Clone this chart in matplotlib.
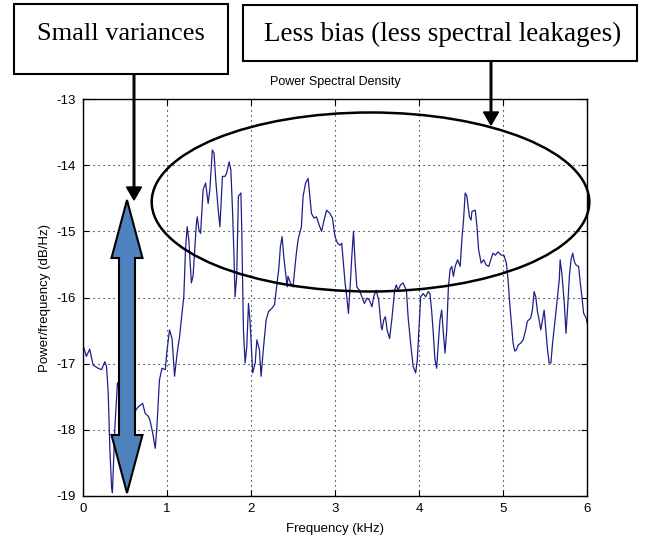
import matplotlib
matplotlib.use('Agg')
import matplotlib.pyplot as plt
from matplotlib.patches import Rectangle, Ellipse, FancyArrow, Polygon

# PSD (kHz, dB/Hz)
freq_khz = [0.00, 0.04, 0.08, 0.12, 0.18, 0.22, 0.26, 0.28, 0.30, 0.32, 0.34, 0.35, 0.38, 0.41,
            0.45, 0.50, 0.55, 0.60, 0.63, 0.66, 0.71, 0.74, 0.78, 0.80, 0.83, 0.86, 0.88, 0.91,
            0.94, 0.98, 1.00, 1.03, 1.06, 1.09, 1.12, 1.15, 1.17, 1.20, 1.22, 1.24, 1.26, 1.29,
            1.31, 1.35, 1.36, 1.38, 1.40, 1.43, 1.46, 1.49, 1.51, 1.54, 1.56, 1.58, 1.61, 1.63,
            1.66, 1.69, 1.71, 1.74, 1.76, 1.78, 1.80, 1.81, 1.83, 1.85, 1.88, 1.89, 1.91, 1.93,
            1.95, 1.97, 1.99, 2.02, 2.05, 2.07, 2.10, 2.12, 2.15, 2.18, 2.21, 2.25, 2.28, 2.31,
            2.33, 2.35, 2.37, 2.39, 2.43, 2.44, 2.47, 2.50, 2.52, 2.54, 2.56, 2.60, 2.62, 2.65,
            2.68, 2.70, 2.72, 2.75, 2.78, 2.81, 2.84, 2.87, 2.90, 2.94, 2.97, 3.00, 3.03, 3.06,
            3.08, 3.10, 3.12, 3.14, 3.16, 3.18, 3.20, 3.22, 3.24, 3.26, 3.29, 3.32, 3.35, 3.38,
            3.41, 3.44, 3.46, 3.49, 3.52, 3.55, 3.56, 3.58, 3.60, 3.62, 3.65, 3.68, 3.71, 3.73,
            3.75, 3.78, 3.81, 3.85, 3.87, 3.90, 3.93, 3.96, 3.98, 4.00, 4.02, 4.05, 4.08, 4.11,
            4.13, 4.15, 4.17, 4.19, 4.21, 4.23, 4.25, 4.27, 4.29, 4.31, 4.33, 4.35, 4.37, 4.39,
            4.41, 4.43, 4.46, 4.49, 4.51, 4.53, 4.55, 4.57, 4.60, 4.62, 4.63, 4.67, 4.69, 4.71,
            4.74, 4.77, 4.80, 4.83, 4.86, 4.88, 4.91, 4.94, 4.98, 5.01, 5.04, 5.06, 5.08, 5.10,
            5.12, 5.14, 5.16, 5.18, 5.21, 5.24, 5.27, 5.29, 5.33, 5.35, 5.37, 5.39, 5.41, 5.43,
            5.45, 5.47, 5.49, 5.51, 5.53, 5.55, 5.57, 5.59, 5.62, 5.64, 5.67, 5.68, 5.70, 5.73,
            5.75, 5.77, 5.79, 5.81, 5.83, 5.85, 5.87, 5.90, 5.92, 5.94, 5.96, 5.99, 6.00]
psd_db = [-16.72, -16.89, -16.78, -17.02, -17.07, -17.09, -16.97, -17.04, -17.44, -18.30, -18.86, -18.95, -17.95, -17.29,
          -17.40, -17.90, -18.10, -17.80, -17.70, -17.65, -17.60, -17.75, -17.80, -17.87, -18.05, -18.28, -17.95, -17.25,
          -17.07, -17.09, -16.80, -16.49, -16.62, -17.19, -16.85, -16.59, -16.34, -15.99, -15.28, -14.93, -15.13, -15.78,
          -15.68, -14.88, -14.78, -14.98, -15.03, -14.37, -14.27, -14.58, -14.37, -13.77, -13.82, -14.22, -14.68, -14.93,
          -14.17, -14.17, -14.12, -13.95, -14.07, -14.68, -15.48, -15.99, -15.68, -14.47, -14.42, -14.98, -16.49, -16.99,
          -16.74, -16.09, -16.39, -17.14, -16.99, -16.64, -16.79, -17.19, -16.74, -16.34, -16.21, -16.16, -16.11, -15.78,
          -15.58, -15.23, -15.08, -15.38, -15.84, -15.68, -15.78, -15.84, -15.58, -15.33, -15.13, -14.93, -14.47, -14.27,
          -14.20, -14.47, -14.73, -14.80, -14.78, -14.90, -15.00, -14.83, -14.68, -14.73, -14.80, -15.08, -15.18, -15.21,
          -15.18, -15.48, -15.78, -15.99, -16.24, -15.84, -15.38, -15.00, -15.48, -15.84, -15.89, -15.99, -16.09, -16.01,
          -16.04, -16.14, -15.99, -15.89, -16.04, -16.44, -16.49, -16.34, -16.29, -16.49, -16.62, -16.29, -15.89, -15.81,
          -15.89, -15.81, -15.78, -15.89, -16.29, -16.69, -17.04, -17.14, -16.94, -16.45, -15.99, -15.94, -15.99, -15.91,
          -15.94, -16.19, -16.54, -16.94, -17.07, -16.69, -16.34, -16.19, -16.54, -16.84, -16.49, -15.84, -15.58, -15.53,
          -15.68, -15.53, -15.43, -15.53, -15.13, -14.83, -14.42, -14.47, -14.78, -14.83, -14.70, -14.68, -14.93, -15.28,
          -15.48, -15.43, -15.51, -15.53, -15.41, -15.33, -15.36, -15.31, -15.36, -15.36, -15.48, -15.73, -16.09, -16.39,
          -16.69, -16.81, -16.79, -16.72, -16.69, -16.64, -16.49, -16.36, -16.31, -16.19, -15.91, -15.99, -16.21, -16.34,
          -16.49, -16.34, -16.19, -16.49, -16.79, -16.99, -16.99, -16.69, -16.34, -16.09, -15.73, -15.43, -15.63, -16.09,
          -16.54, -16.14, -15.68, -15.43, -15.33, -15.46, -15.51, -15.53, -15.78, -15.99, -16.24, -16.31, -16.38]

x_ticks = [0, 1, 2, 3, 4, 5, 6]
y_ticks = [-19, -18, -17, -16, -15, -14, -13]
note_left = 'Small variances'
note_right = 'Less bias (less spectral leakages)'

plt.rcParams['font.family'] = ['Liberation Sans', 'DejaVu Sans']
plt.rcParams['axes.unicode_minus'] = False

fig = plt.figure(figsize=(6.45, 5.4), dpi=100)
ax = fig.add_axes([83 / 645, 1 - 496 / 540, 504 / 645, 397 / 540])

ax.plot(freq_khz, psd_db, color='#1f1f8a', linewidth=0.9)
ax.set_xlim(0, 6)
ax.set_ylim(-19, -13)
ax.set_xticks(x_ticks)
ax.set_yticks(y_ticks)
ax.grid(True, linestyle=(0, (1, 3.5)), color='black', linewidth=0.8)
ax.tick_params(direction='in', top=True, right=True, length=4, labelsize=9.5, pad=5)
for sp in ax.spines.values():
    sp.set_linewidth(1.0)
ax.set_title('Power Spectral Density', fontsize=9, pad=10)
ax.set_xlabel('Frequency (kHz)', fontsize=9.5, labelpad=6)
ax.set_ylabel('Power/frequency (dB/Hz)', fontsize=9.5, labelpad=4)

# overlay in pixel coordinates for the callouts
ov = fig.add_axes([0, 0, 1, 1], zorder=5)
ov.set_xlim(0, 645)
ov.set_ylim(540, 0)
ov.axis('off')

ov.add_patch(Rectangle((14, 4), 214, 70, facecolor='white', edgecolor='black', linewidth=1.5))
ov.add_patch(Rectangle((243, 5), 394, 56, facecolor='white', edgecolor='black', linewidth=1.5))
ov.text(121, 34, note_left, ha='center', va='center', fontsize=19, family='Liberation Serif')
ov.text(443, 34, note_right, ha='center', va='center', fontsize=19.5, family='Liberation Serif')

ov.add_patch(FancyArrow(134, 74, 0, 126, width=1.6, head_width=15, head_length=13,
                        length_includes_head=True, color='black'))
ov.add_patch(FancyArrow(491, 61, 0, 64, width=1.6, head_width=15, head_length=13,
                        length_includes_head=True, color='black'))

ov.add_patch(Ellipse((370.5, 202), 437.6, 179, fill=False, edgecolor='black', linewidth=1.8))

# double-headed blue arrow
cx, top, bot, sw, hw, hl = 127, 200, 493, 16, 31, 58
verts = [(cx, top), (cx + hw / 2, top + hl), (cx + sw / 2, top + hl), (cx + sw / 2, bot - hl),
         (cx + hw / 2, bot - hl), (cx, bot), (cx - hw / 2, bot - hl), (cx - sw / 2, bot - hl),
         (cx - sw / 2, top + hl), (cx - hw / 2, top + hl)]
ov.add_patch(Polygon(verts, closed=True, facecolor='#4f81bd', edgecolor='black', linewidth=1.5))

fig.savefig('out.png', dpi=100)
